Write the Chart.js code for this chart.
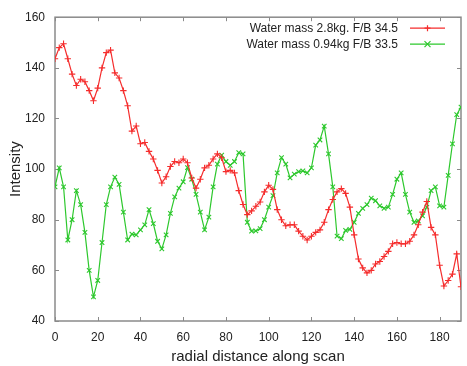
<!DOCTYPE html>
<html>
<head>
<meta charset="utf-8">
<script src="https://cdn.jsdelivr.net/npm/chart.js@4.4.1/dist/chart.umd.min.js"></script>
<style>
  html, body { margin: 0; padding: 0; background: #fff; }
  #wrap { width: 467px; height: 366px; }
</style>
</head>
<body>
<div id="wrap"><canvas id="scan-chart" width="467" height="366"></canvas></div>
<script>
const distance = [0,2,4,6,8,10,12,14,16,18,20,22,24,26,28,30,32,34,36,38,40,42,44,46,48,50,52,54,56,58,60,62,64,66,68,70,72,74,76,78,80,82,84,86,88,90,92,94,96,98,100,102,104,106,108,110,112,114,116,118,120,122,124,126,128,130,132,134,136,138,140,142,144,146,148,150,152,154,156,158,160,162,164,166,168,170,172,174,176,178,180,182,184,186,188,190]
const heavyMass = [143.6,148,149.5,143.6,137.5,133,135.5,134.5,131,127,132,140,146,147,138,136,131,125,115,117,110,110.5,107,104,99.5,94.5,97,101,103,102.5,104,102.5,96.5,92.5,96,100.5,101.5,104,106,104.5,99,99.5,98.5,91.5,86,82,83.5,85.3,87,91,93.6,92,84,80,77.6,78,78,75.5,73.5,72,73.5,75,76,79,84,88,91,92.3,90.4,85,74,64.5,61,59,60,62.5,63.5,65.5,67.5,70.5,71,70.5,70.5,71.5,74,78,83,87.2,77,74,62,53.8,56,58.5,66.5,53.5]
const lightMass = [93,100.5,93,72,80,91.5,86,75,60,49.5,56,71,86,93,96.8,94,83,72,74.3,74,76,78,84,78.5,71.5,68.5,74,82.5,89,92.5,95,100.6,96,90,83,76,81,93,102,105.5,103,101.5,103,106.5,106,79,75.5,75.6,76.5,80,85,89.5,98.5,104.5,102,96.5,98,99,99.3,98.5,100.5,109.5,111.5,117,106,93,73.5,72.5,75.8,76.2,79,82.5,84.5,86,88.5,87.5,85.5,84.5,85,90,96,98.5,90,83,79,79.5,81.5,85,91.5,93,85.5,85,97.5,110,121.5,124.5]
const seriesNames = ['Water mass 2.8kg. F/B 34.5', 'Water mass 0.94kg F/B 33.5']
const xTicks = [0,20,40,60,80,100,120,140,160,180]
const yTicks = [40,60,80,100,120,140,160]

const red = 'rgb(245,45,45)'
const green = 'rgb(45,200,45)'
const axisGray = '#8a8a8a'

function pts(vals) {
  return distance.map((d, i) => ({ x: d, y: vals[i] }))
}

// gnuplot style frame: box with inward ticks on every side, legend inside top right
const framePlugin = {
  id: 'frame',
  beforeDatasetsDraw(chart) {
    const { ctx, chartArea: a, scales } = chart
    ctx.save()
    ctx.strokeStyle = axisGray
    ctx.lineWidth = 1.5
    ctx.strokeRect(a.left, a.top, a.right - a.left, a.bottom - a.top)
    ctx.lineWidth = 1
    const len = 4
    ctx.beginPath()
    xTicks.forEach(v => {
      const px = Math.round(scales.x.getPixelForValue(v)) + 0.5
      ctx.moveTo(px, a.bottom); ctx.lineTo(px, a.bottom - len)
      ctx.moveTo(px, a.top); ctx.lineTo(px, a.top + len)
    })
    yTicks.forEach(v => {
      const py = Math.round(scales.y.getPixelForValue(v)) + 0.5
      ctx.moveTo(a.left, py); ctx.lineTo(a.left + len, py)
      ctx.moveTo(a.right, py); ctx.lineTo(a.right - len, py)
    })
    ctx.stroke()
    ctx.restore()
  },
  afterDraw(chart) {
    const { ctx, chartArea: a } = chart
    ctx.save()
    ctx.font = '12px "Liberation Sans", Arial, sans-serif'
    ctx.textAlign = 'right'
    ctx.textBaseline = 'middle'
    const textRight = a.right - 63
    chart.data.datasets.forEach((ds, i) => {
      const y = a.top + 11 + i * 16
      ctx.fillStyle = '#222'
      ctx.fillText(seriesNames[i], textRight, y)
      const x0 = textRight + 12, x1 = a.right - 16
      ctx.strokeStyle = ds.borderColor
      ctx.lineWidth = 1.2
      ctx.beginPath(); ctx.moveTo(x0, y); ctx.lineTo(x1, y); ctx.stroke()
      const cx = (x0 + x1) / 2, r = 3
      ctx.beginPath()
      if (ds.pointStyle === 'cross') {
        ctx.moveTo(cx - r, y); ctx.lineTo(cx + r, y)
        ctx.moveTo(cx, y - r); ctx.lineTo(cx, y + r)
      } else {
        ctx.moveTo(cx - r, y - r); ctx.lineTo(cx + r, y + r)
        ctx.moveTo(cx - r, y + r); ctx.lineTo(cx + r, y - r)
      }
      ctx.stroke()
    })
    ctx.restore()
  }
}

const tickFont = { family: '"Liberation Sans", Arial, sans-serif', size: 12 }
const titleFont = { family: '"Liberation Sans", Arial, sans-serif', size: 15 }

new Chart(document.getElementById('scan-chart'), {
  type: 'line',
  data: {
    datasets: [
      {
        label: seriesNames[0],
        data: pts(heavyMass),
        borderColor: red,
        borderWidth: 1.2,
        pointStyle: 'cross',
        pointRadius: 3.2,
        pointBorderColor: red,
        pointBorderWidth: 1.1,
        tension: 0
      },
      {
        label: seriesNames[1],
        data: pts(lightMass),
        borderColor: green,
        borderWidth: 1.2,
        pointStyle: 'crossRot',
        pointRadius: 3.2,
        pointBorderColor: green,
        pointBorderWidth: 1.1,
        tension: 0
      }
    ]
  },
  options: {
    responsive: false,
    animation: false,
    layout: { padding: { top: 8, right: 6, left: 0, bottom: 0 } },
    plugins: { legend: { display: false }, tooltip: { enabled: false } },
    scales: {
      x: {
        type: 'linear',
        min: 0,
        max: 190,
        afterBuildTicks: s => { s.ticks = xTicks.map(v => ({ value: v })) },
        afterFit: s => { s.height = 45 },
        grid: { display: false, drawTicks: false },
        border: { display: false },
        ticks: { color: '#222', font: tickFont, padding: 9, maxRotation: 0 },
        title: {
          display: true,
          text: 'radial distance along scan',
          color: '#222',
          font: titleFont,
          padding: { top: 1, bottom: 0 }
        }
      },
      y: {
        min: 40,
        max: 160,
        afterBuildTicks: s => { s.ticks = yTicks.map(v => ({ value: v })) },
        afterFit: s => { s.width = 55 },
        grid: { display: false, drawTicks: false },
        border: { display: false },
        ticks: { color: '#222', font: tickFont, padding: 10 },
        title: {
          display: true,
          text: 'Intensity',
          color: '#222',
          font: titleFont,
          padding: { top: 7, bottom: 0 }
        }
      }
    }
  },
  plugins: [framePlugin]
})
</script>
</body>
</html>
